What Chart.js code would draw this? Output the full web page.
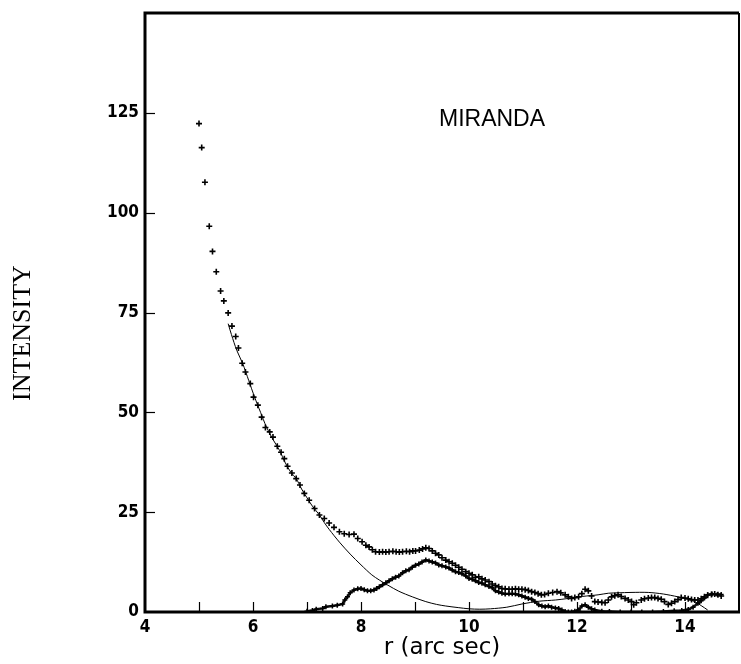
<!DOCTYPE html>
<html>
<head>
<meta charset="utf-8">
<script src="https://cdn.jsdelivr.net/npm/chart.js@4"></script>
<style>
    body { margin: 0; background: #fff; }
    canvas { display: block; }
</style>
</head>
<body>
<canvas id="chart" width="741" height="664"></canvas>
<script>
// ===== DATA =====

// Observed profile, crosses
const totalR = [5.00, 5.05, 5.11, 5.19, 5.25, 5.32, 5.40, 5.46, 5.54, 5.61, 5.68, 5.73, 5.80, 5.86, 5.95, 6.01,
    6.09, 6.16, 6.23, 6.31, 6.37, 6.45, 6.52, 6.58, 6.64, 6.72, 6.80, 6.87, 6.95, 7.04, 7.14, 7.23, 7.32, 7.41,
    7.50, 7.60, 7.69, 7.78, 7.87, 7.94, 8.02, 8.09, 8.15, 8.21, 8.27, 8.34, 8.40, 8.46, 8.52, 8.59, 8.65, 8.71,
    8.77, 8.84, 8.90, 8.96, 9.01, 9.08, 9.14, 9.20, 9.26, 9.32, 9.38, 9.44, 9.50, 9.57, 9.63, 9.69, 9.75, 9.81,
    9.87, 9.94, 10.00, 10.06, 10.12, 10.18, 10.24, 10.30, 10.37, 10.43, 10.49, 10.55, 10.61, 10.67, 10.74, 10.80,
    10.86, 10.92, 10.98, 11.04, 11.10, 11.16, 11.22, 11.28, 11.34, 11.40, 11.47, 11.55, 11.63, 11.70, 11.78,
    11.84, 11.90, 11.96, 12.03, 12.09, 12.15, 12.21, 12.27, 12.33, 12.39, 12.46, 12.52, 12.58, 12.64, 12.70,
    12.76, 12.82, 12.89, 12.95, 13.01, 13.05, 13.10, 13.19, 13.25, 13.32, 13.38, 13.44, 13.50, 13.56, 13.62,
    13.69, 13.75, 13.81, 13.87, 13.93, 14.00, 14.06, 14.12, 14.18, 14.24, 14.30, 14.36, 14.42, 14.49, 14.55,
    14.61, 14.67];
const totalI = [122.3, 116.3, 107.6, 96.6, 90.3, 85.2, 80.4, 77.9, 74.9, 71.6, 69.0, 66.1, 62.3, 60.1, 57.2, 53.8,
    51.8, 48.8, 46.2, 45.1, 43.8, 41.5, 40.0, 38.4, 36.5, 34.8, 33.4, 31.8, 29.7, 28.0, 25.9, 24.3, 23.4, 22.3,
    21.2, 20.1, 19.6, 19.4, 19.5, 18.4, 17.6, 16.7, 16.3, 15.6, 15.1, 15.0, 15.1, 15.0, 15.1, 15.2, 15.1, 15.0,
    15.1, 15.2, 15.1, 15.3, 15.3, 15.5, 15.8, 16.1, 15.9, 15.3, 14.7, 14.3, 13.6, 13.0, 12.6, 12.2, 11.7, 11.2,
    10.7, 10.1, 9.7, 9.3, 8.7, 8.8, 8.3, 8.0, 7.6, 7.0, 6.6, 6.3, 5.9, 5.8, 5.7, 5.7,
    5.8, 5.7, 5.7, 5.6, 5.4, 5.1, 4.9, 4.6, 4.3, 4.4, 4.7, 4.9, 5.1, 4.8, 4.3,
    3.8, 3.4, 3.6, 3.8, 4.6, 5.7, 5.3, 4.0, 2.6, 2.5, 2.4, 2.3, 3.0, 3.8, 4.1,
    4.3, 3.9, 3.4, 3.0, 2.6, 1.8, 2.3, 3.0, 3.3, 3.5, 3.6, 3.6, 3.4, 3.2, 2.6,
    1.9, 2.2, 2.6, 3.1, 3.6, 3.5, 3.3, 3.1, 3.0, 3.0, 3.3, 3.8, 4.2, 4.4, 4.5,
    4.3, 4.0];

// Profile after removing the scattered light, dense crosses
const residR = [7.00, 7.10, 7.17, 7.29, 7.35, 7.47, 7.56, 7.66, 7.70, 7.75, 7.80, 7.87, 7.94, 8.00, 8.06, 8.12,
    8.18, 8.24, 8.29, 8.34, 8.40, 8.46, 8.52, 8.58, 8.64, 8.70, 8.77, 8.83, 8.89, 8.95, 9.01, 9.07, 9.13, 9.20,
    9.26, 9.32, 9.38, 9.44, 9.50, 9.57, 9.63, 9.69, 9.75, 9.81, 9.87, 9.94, 10.00, 10.06, 10.12, 10.18, 10.24,
    10.30, 10.37, 10.43, 10.49, 10.55, 10.61, 10.67, 10.74, 10.80, 10.86, 10.92, 10.98, 11.04, 11.10, 11.16,
    11.22, 11.29, 11.35, 11.41, 11.47, 11.53, 11.60, 11.66, 11.72, 11.78, 11.84, 11.90, 11.96, 12.03, 12.09,
    12.15, 12.21, 12.27, 12.33, 12.46, 12.60, 12.80, 13.00, 13.20, 13.40, 13.60, 13.80, 13.94, 14.06, 14.15,
    14.24, 14.30, 14.36, 14.42, 14.50, 14.60, 14.67];
const residI = [0.2, 0.4, 0.7, 0.9, 1.3, 1.5, 1.7, 2.0, 3.0, 3.8, 4.8, 5.5, 5.8, 5.9, 5.6, 5.3,
    5.3, 5.5, 5.9, 6.3, 6.8, 7.3, 7.8, 8.3, 8.7, 9.0, 9.8, 10.3, 10.6, 11.2, 11.7, 12.0, 12.5, 13.0,
    12.8, 12.5, 12.3, 11.8, 11.6, 11.3, 11.0, 10.5, 10.1, 9.9, 9.6, 9.0, 8.4, 8.2, 7.8, 7.4, 7.2,
    6.8, 6.4, 6.1, 5.3, 5.0, 4.7, 4.5, 4.6, 4.6, 4.5, 4.3, 4.0, 3.7, 3.4, 3.2,
    2.6, 1.8, 1.5, 1.3, 1.5, 1.2, 1.0, 0.9, 0.5, 0.1, 0.0, 0.0, 0.2, 0.5, 1.5,
    1.8, 1.2, 0.8, 0.5, 0.2, 0.1, 0.0, 0.0, 0.0, 0.0, 0.1, 0.3, 0.4, 0.6, 1.2,
    2.2, 2.8, 3.5, 4.3, 4.5, 4.4, 4.4];

// Fitted curve, thin line
const modelR = [5.54, 5.60, 5.70, 5.81, 5.92, 6.03, 6.14, 6.25, 6.37, 6.49, 6.60, 6.70, 6.80, 6.90, 7.00, 7.10,
    7.23, 7.32, 7.41, 7.60, 7.80, 8.00, 8.20, 8.34, 8.50, 8.70, 8.95, 9.20, 9.40, 9.57, 9.80, 10.00, 10.20,
    10.40, 10.70, 10.98, 11.30, 11.60, 11.84, 12.10, 12.39, 12.58, 12.76, 13.00, 13.32, 13.60, 13.87, 14.05,
    14.18, 14.30, 14.42];
const modelI = [72.2, 69.5, 65.5, 62.2, 58.0, 53.8, 50.0, 46.3, 43.2, 40.5, 37.3, 35.0, 33.4, 30.8, 28.6, 26.5,
    24.3, 22.4, 20.7, 17.5, 14.5, 11.8, 9.3, 8.0, 6.7, 5.2, 3.8, 2.6, 1.9, 1.5, 1.1, 0.8, 0.7,
    0.8, 1.2, 2.0, 2.7, 3.0, 3.4, 3.9, 4.3, 4.7, 4.8, 4.9, 4.9, 4.5, 3.8, 3.2,
    2.6, 1.6, 0.5];

// Axis ticks
const xLabelTicks = [4, 6, 8, 10, 12, 14];
const yLabelTicks = [0, 25, 50, 75, 100, 125];

const toPoints = (xs, ys) => xs.map((x, i) => ({ x: x, y: ys[i] }));

const tickFamily = "'DejaVu Sans Condensed', sans-serif";

// ===== FRAME, INNER TICKS, LABELS =====
const framePlugin = {
    id: 'framePlugin',
    afterDraw(chart) {
        const { ctx, chartArea: a, scales } = chart;
        ctx.save();
        ctx.strokeStyle = '#000';
        ctx.lineCap = 'butt';

        // short ticks pointing into the plot
        ctx.lineWidth = 1.2;
        scales.x.ticks.forEach(t => {
            if (t.value <= 4 || t.value >= 15) return;
            const px = Math.round(scales.x.getPixelForValue(t.value)) + 0.5;
            ctx.beginPath();
            ctx.moveTo(px, a.bottom);
            ctx.lineTo(px, a.bottom - 10);
            ctx.stroke();
        });
        scales.y.ticks.forEach(t => {
            if (t.value <= 0 || t.value >= 150) return;
            const py = Math.round(scales.y.getPixelForValue(t.value)) + 0.5;
            ctx.beginPath();
            ctx.moveTo(a.left, py);
            ctx.lineTo(a.left + 10, py);
            ctx.stroke();
        });

        // box
        ctx.lineWidth = 3;
        ctx.beginPath();
        ctx.moveTo(a.left, a.top);
        ctx.lineTo(a.right, a.top);
        ctx.moveTo(a.left, a.top - 1.5);
        ctx.lineTo(a.left, a.bottom + 1.5);
        ctx.moveTo(a.left - 1.5, a.bottom);
        ctx.lineTo(a.right + 1, a.bottom);
        ctx.stroke();
        ctx.lineWidth = 2;
        ctx.beginPath();
        ctx.moveTo(a.right, a.top);
        ctx.lineTo(a.right, a.bottom);
        ctx.stroke();

        // texts
        ctx.fillStyle = '#000';
        ctx.font = "23px 'Liberation Sans', sans-serif";
        ctx.textAlign = 'center';
        ctx.textBaseline = 'alphabetic';
        ctx.fillText('MIRANDA', 492, 126);

        ctx.translate(23, 333);
        ctx.rotate(-Math.PI / 2);
        ctx.font = "26px 'Liberation Serif', serif";
        ctx.textBaseline = 'middle';
        ctx.fillText('INTENSITY', 0, 0);
        ctx.restore();
    }
};

// ===== CHART =====
new Chart(document.getElementById('chart'), {
    type: 'scatter',
    data: {
        datasets: [
            {
                label: 'model',
                data: toPoints(modelR, modelI),
                showLine: true,
                borderColor: '#000',
                borderWidth: 1,
                pointRadius: 0,
                tension: 0.3
            },
            {
                label: 'residual',
                data: toPoints(residR, residI),
                showLine: true,
                borderColor: '#111',
                borderWidth: 2.5,
                pointStyle: 'cross',
                pointRadius: 2.5,
                pointBorderWidth: 1.5,
                pointBorderColor: '#000'
            },
            {
                label: 'observed',
                data: toPoints(totalR, totalI),
                showLine: false,
                pointStyle: 'cross',
                pointRadius: 3,
                pointBorderWidth: 1.6,
                pointBorderColor: '#000'
            }
        ]
    },
    options: {
        responsive: false,
        animation: false,
        devicePixelRatio: 1,
        layout: { autoPadding: false, padding: { left: 0, right: 2, top: 13, bottom: 0 } },
        plugins: {
            legend: { display: false },
            tooltip: { enabled: false }
        },
        scales: {
            x: {
                type: 'linear',
                min: 4,
                max: 15,
                grid: { display: false, drawTicks: false },
                border: { display: false },
                ticks: {
                    stepSize: 1,
                    padding: 0,
                    color: '#000',
                    font: { family: tickFamily, size: 17, weight: 'bold', lineHeight: 1.8 },
                    maxRotation: 0,
                    autoSkip: false,
                    callback: v => xLabelTicks.includes(v) ? String(v) : ''
                },
                title: {
                    display: true,
                    text: 'r (arc sec)',
                    color: '#000',
                    font: { family: "'DejaVu Sans', sans-serif", size: 23 },
                    padding: { top: 0, bottom: 2 }
                },
                afterFit: s => {
                    s.height = 52;
                    s.paddingLeft = 0;
                    s.paddingRight = 0;
                }
            },
            y: {
                type: 'linear',
                min: 0,
                max: 150,
                grid: { display: false, drawTicks: false },
                border: { display: false },
                ticks: {
                    stepSize: 25,
                    padding: 6,
                    color: '#000',
                    font: { family: tickFamily, size: 17, weight: 'bold' },
                    callback: v => yLabelTicks.includes(v) ? String(v) : ''
                },
                afterFit: s => {
                    s.width = 145;
                    s.paddingTop = 0;
                    s.paddingBottom = 0;
                }
            }
        }
    },
    plugins: [framePlugin]
});
</script>
</body>
</html>
